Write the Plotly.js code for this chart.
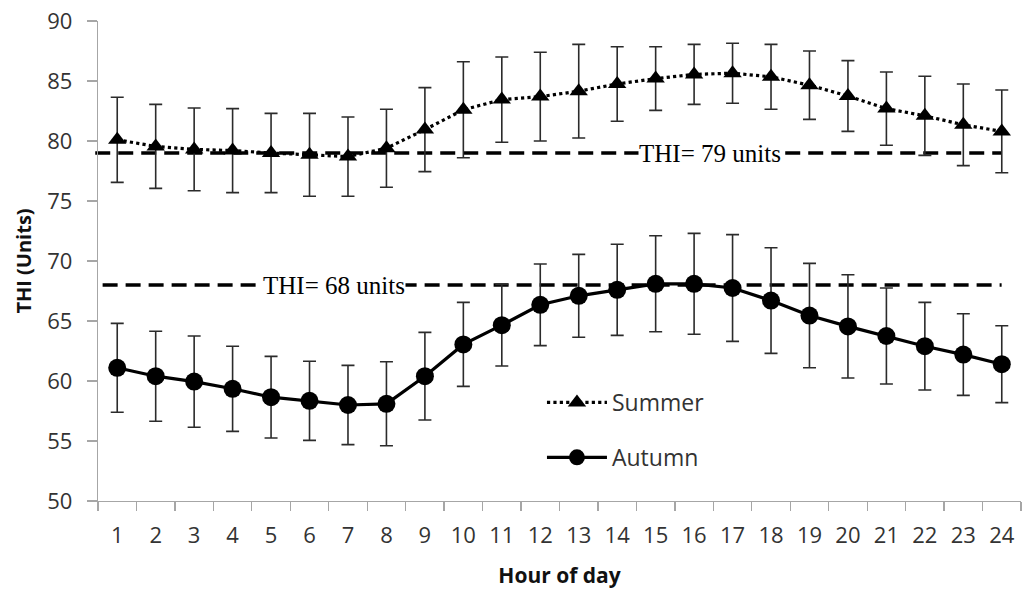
<!DOCTYPE html>
<html>
<head>
<meta charset="utf-8">
<script src="https://cdn.plot.ly/plotly-3.0.1.min.js"></script>
<style>
  html, body { margin: 0; padding: 0; background: #fff; }
  #chart { width: 1027px; height: 590px; }
</style>
</head>
<body>
<div id="chart"></div>
<script>
// Hourly temperature-humidity index (mean ± SD) for two seasons
const hours = ["1","2","3","4","5","6","7","8","9","10","11","12",
               "13","14","15","16","17","18","19","20","21","22","23","24"];

const summerMean = [80.1, 79.55, 79.3, 79.2, 79.0, 78.85, 78.7, 79.4, 80.95, 82.6, 83.45, 83.7,
                    84.15, 84.75, 85.2, 85.55, 85.65, 85.35, 84.65, 83.75, 82.7, 82.1, 81.35, 80.8];
const summerSD   = [3.55, 3.5, 3.45, 3.5, 3.3, 3.45, 3.3, 3.25, 3.5, 4.0, 3.55, 3.7,
                    3.9, 3.1, 2.65, 2.5, 2.5, 2.7, 2.85, 2.95, 3.05, 3.3, 3.4, 3.45];

const autumnMean = [61.1, 60.4, 59.95, 59.35, 58.65, 58.35, 58.0, 58.1, 60.4, 63.05, 64.65, 66.35,
                    67.1, 67.6, 68.1, 68.1, 67.75, 66.7, 65.45, 64.55, 63.75, 62.9, 62.2, 61.4];
const autumnSD   = [3.7, 3.75, 3.8, 3.55, 3.4, 3.3, 3.3, 3.5, 3.65, 3.5, 3.4, 3.4,
                    3.45, 3.8, 4.0, 4.2, 4.45, 4.4, 4.35, 4.3, 4.0, 3.65, 3.4, 3.2];

// Threshold levels for the two seasons
const thresholds = [79, 68];
const thresholdLabels = ["THI= 79 units", "THI= 68 units"];

const sansFamily = "Open Sans, Liberation Sans, sans-serif";
const tickFont = { family: sansFamily, size: 22, color: "#333" };
const axisGrey = "#a6a6a6";

const errStyle = { type: "data", visible: true, thickness: 1.6, width: 6.5, color: "#2b2b2b" };

const summer = {
  x: hours, y: summerMean, name: "Summer", legendgroup: "s",
  type: "scatter", mode: "lines+markers",
  line: { color: "#000", width: 3.2, dash: "dot" },
  marker: { symbol: "triangle-up", size: 16, color: "#000" },
  error_y: Object.assign({ array: summerSD }, errStyle)
};

const autumn = {
  x: hours, y: autumnMean, name: "Autumn", legendgroup: "a",
  type: "scatter", mode: "lines+markers",
  line: { color: "#000", width: 3.2 },
  marker: { symbol: "circle", size: 18, color: "#000" },
  error_y: Object.assign({ array: autumnSD }, errStyle)
};

// Dashed reference lines spanning the plot width
const lineSpans = [[-0.003, 0.979], [0.005, 0.979]];
const shapes = thresholds.map((v, i) => ({
  type: "line", xref: "paper", yref: "y",
  x0: lineSpans[i][0], x1: lineSpans[i][1], y0: v, y1: v,
  line: { color: "#000", width: 3.5, dash: "15px,8px" },
  layer: "below"
}));

const labelX = [0.663, 0.2557];
const annotations = thresholds.map((v, i) => ({
  xref: "paper", yref: "y", x: labelX[i], y: v,
  text: thresholdLabels[i], showarrow: false,
  bgcolor: "#fff", borderpad: 0,
  font: { family: "Liberation Serif, Times New Roman, serif", size: 25, color: "#000" },
  xanchor: "center", yanchor: "middle"
}));

const layout = {
  width: 1027, height: 590,
  margin: { l: 98, r: 6, t: 21, b: 89 },
  paper_bgcolor: "#fff", plot_bgcolor: "#fff",
  showlegend: true,
  legend: {
    x: 0.481, y: 0.25, xanchor: "left", yanchor: "top",
    font: { family: sansFamily, size: 23, color: "#333" },
    tracegroupgap: 22, bgcolor: "rgba(0,0,0,0)", itemwidth: 60
  },
  xaxis: {
    type: "category", tickson: "boundaries", range: [-0.5, 23.5],
    showline: true, linecolor: axisGrey, linewidth: 1.3,
    ticks: "outside", ticklen: 9, tickcolor: axisGrey, tickwidth: 1.3,
    showgrid: false, zeroline: false,
    tickfont: tickFont, ticklabelstandoff: 14,
    title: { text: "Hour of day", standoff: 20,
             font: { family: sansFamily, size: 21, color: "#111", weight: "bold" } }
  },
  yaxis: {
    range: [50, 90], dtick: 5, tick0: 50,
    showline: true, linecolor: axisGrey, linewidth: 1.3,
    ticks: "outside", ticklen: 10, tickcolor: axisGrey, tickwidth: 1.3,
    showgrid: false, zeroline: false,
    tickfont: tickFont, ticklabelstandoff: 10,
    title: { text: "THI (Units)", standoff: 10,
             font: { family: sansFamily, size: 20, color: "#111", weight: "bold" } }
  },
  shapes: shapes,
  annotations: annotations
};

Plotly.newPlot("chart", [summer, autumn], layout, { displayModeBar: false, staticPlot: true });
</script>
</body>
</html>
